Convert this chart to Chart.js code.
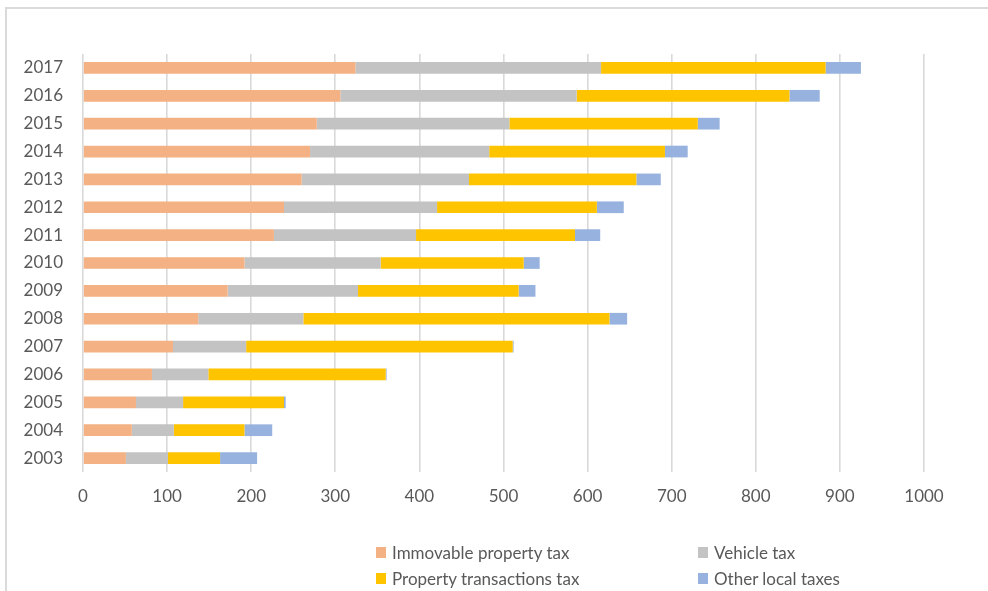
<!DOCTYPE html>
<html>
<head>
<meta charset="utf-8">
<title>Local taxes 2003–2017</title>
<script src="https://cdn.jsdelivr.net/npm/chart.js@4/dist/chart.umd.min.js"></script>
<style>
  html, body { margin: 0; padding: 0; background: #fff; }
  #wrap { position: relative; width: 988px; height: 591px; overflow: hidden; font-family: Lato, "Open Sans", sans-serif; }
  #frame { position: absolute; left: 5px; top: 7px; width: 1100px; height: 700px;
           border-left: 2px solid #dadada; border-top: 2px solid #dadada; }
  #chart { position: absolute; left: 0; top: 0; }
  #legend { position: absolute; left: 376px; top: 539px; display: grid;
            grid-template-columns: 322px auto; grid-auto-rows: 26px; }
  .item { display: flex; align-items: center; font-size: 17px; color: #595959; white-space: nowrap; }
  .box { width: 10px; height: 11px; margin-right: 6px; flex: none; }
</style>
</head>
<body>
<div id="wrap">
  <div id="frame"></div>
  <canvas id="chart" width="988" height="591"></canvas>
  <div id="legend"></div>
</div>
<script>
// Years and local tax revenue by type
const years = ['2003','2004','2005','2006','2007','2008','2009','2010','2011','2012','2013','2014','2015','2016','2017'];
const immovablePropertyTax   = [51, 58, 63, 82, 107, 137, 172, 192, 227, 239, 260, 270, 278, 306, 324];
const vehicleTax             = [50, 50, 56, 67, 87, 125, 155, 162, 169, 182, 199, 213, 229, 281, 292];
const propertyTransactionsTax = [62, 84, 120, 211, 317, 364, 191, 170, 189, 190, 199, 209, 224, 253, 267];
const otherLocalTaxes        = [44, 33, 2, 1, 1, 21, 20, 19, 30, 32, 29, 27, 26, 36, 42];
const xTicks = { min: 0, max: 1000, step: 100 };

const textColor = '#595959';
const gridColor = '#d9d9d9';
const font = { family: 'Lato, "Open Sans", sans-serif', size: 17 };

const datasets = [
  { label: 'Immovable property tax',   data: immovablePropertyTax,    backgroundColor: '#F4B183' },
  { label: 'Vehicle tax',              data: vehicleTax,              backgroundColor: '#C3C3C3' },
  { label: 'Property transactions tax', data: propertyTransactionsTax, backgroundColor: '#FFC400' },
  { label: 'Other local taxes',        data: otherLocalTaxes,         backgroundColor: '#97B2DE' }
];
datasets.forEach(d => { d.barPercentage = 0.42; d.categoryPercentage = 1.0; d.borderWidth = 0; });

const chart = new Chart(document.getElementById('chart'), {
  type: 'bar',
  data: { labels: years, datasets },
  options: {
    indexAxis: 'y',
    responsive: false,
    animation: false,
    layout: { padding: { top: 54, left: 0, right: 64, bottom: 69 } },
    plugins: { legend: { display: false }, tooltip: { enabled: false } },
    scales: {
      x: {
        stacked: true,
        min: xTicks.min, max: xTicks.max,
        ticks: { stepSize: xTicks.step, color: textColor, font, padding: 14, maxRotation: 0,
                 callback: v => String(v) },
        grid: { color: gridColor, lineWidth: 1.6, drawTicks: false },
        border: { display: false },
        afterFit: s => { s.height = 50; }
      },
      y: {
        stacked: true,
        reverse: true,
        ticks: { color: textColor, font, padding: 20 },
        grid: { display: false, drawTicks: false },
        border: { display: false },
        afterFit: s => { s.width = 83; }
      }
    }
  }
});

// Legend laid out in two columns below the plot
const legend = document.getElementById('legend');
chart.data.datasets.forEach(d => {
  const item = document.createElement('div');
  item.className = 'item';
  const box = document.createElement('span');
  box.className = 'box';
  box.style.background = d.backgroundColor;
  const txt = document.createElement('span');
  txt.textContent = d.label;
  item.appendChild(box);
  item.appendChild(txt);
  legend.appendChild(item);
});
</script>
</body>
</html>
